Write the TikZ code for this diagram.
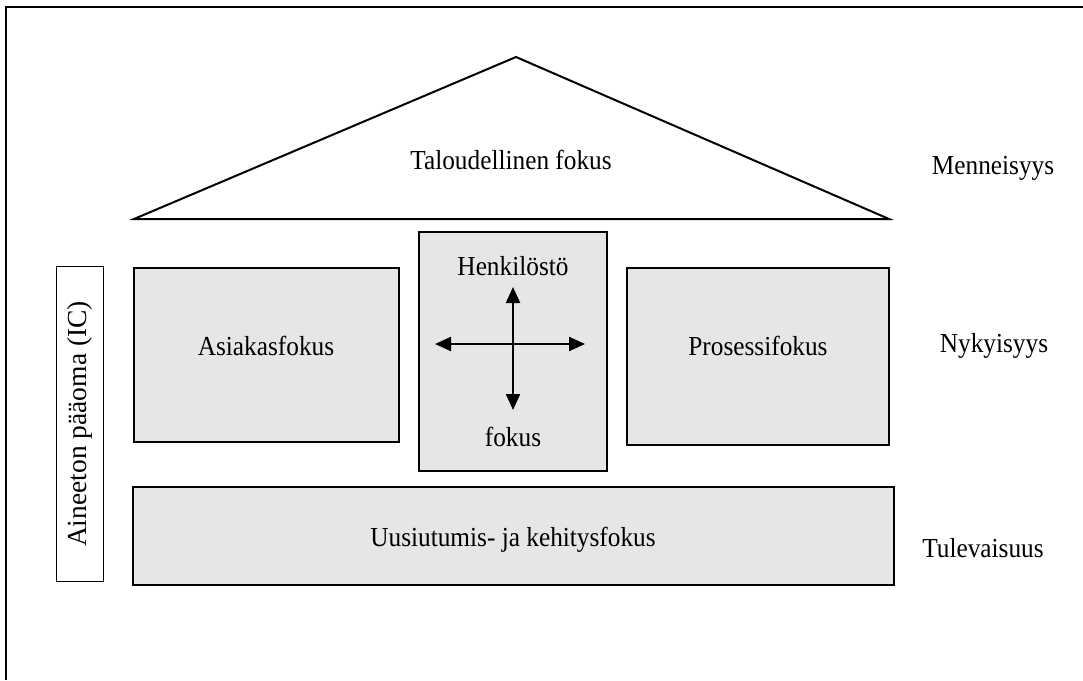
\documentclass[tikz,border=0pt]{standalone}
\usepackage{fontspec}
\setmainfont{Liberation Serif}
\newfontfamily\narrowserif[FakeStretch=0.92]{Liberation Serif}
\usetikzlibrary{arrows.meta}
\definecolor{boxgray}{HTML}{E6E6E6}
\tikzset{
  graybox/.style={draw=black, fill=boxgray, line width=2pt},
  lbl/.style={font=\narrowserif\fontsize{27.5}{32}\selectfont, inner sep=0pt},
  vlbl/.style={font=\fontsize{27.5}{32}\selectfont, inner sep=0pt, rotate=90},
  biarrow/.style={line width=2.2pt, {Triangle[length=16pt,width=14pt]}-{Triangle[length=16pt,width=14pt]}}
}
\begin{document}
\begin{tikzpicture}[x=1pt,y=-1pt]
\useasboundingbox (0,0) rectangle (1083,680);
% frame (top and left edges)
\coordinate (fbl) at (6,680);
\coordinate (ftl) at (6,7);
\coordinate (ftr) at (1083,7);
\draw[line width=2.5pt] (fbl) -- (ftl) -- (ftr);
% roof
\coordinate (apex) at (516,57);
\coordinate (bl) at (134,219);
\coordinate (br) at (889,219);
\draw[line width=2pt, line join=miter] (bl) -- (apex) -- (br) -- cycle;
\node[lbl] (talous) at (511,160) {Taloudellinen fokus};
% boxes
\draw[graybox] (134,268) rectangle (399,442);
\node[lbl] (asiakas) at (266,346) {Asiakasfokus};
\draw[graybox] (419,232) rectangle (607,471);
\node[lbl] (henk) at (513,266) {Henkilöstö};
\node[lbl] (fok) at (513,437) {fokus};
\draw[graybox] (627,268) rectangle (889,445);
\node[lbl] (prosessi) at (758,346) {Prosessifokus};
\draw[graybox] (133,487) rectangle (894,585);
\node[lbl] (uusi) at (513,540) {Uusiutumis- ja kehitysfokus};
% IC box
\draw[line width=1pt] (56,266) rectangle (103,581);
\node[vlbl] (ic) at (80,424) {Aineeton pääoma (IC)};
% arrows
\coordinate (hl) at (435,344);
\coordinate (hr) at (585,344);
\coordinate (vt) at (513,287);
\coordinate (vb) at (513,410);
\draw[biarrow] (hl) -- (hr);
\draw[biarrow] (vt) -- (vb);
% time labels
\node[lbl] (menn) at (993,168) {Menneisyys};
\node[lbl] (nyky) at (994,346) {Nykyisyys};
\node[lbl] (tule) at (983,548) {Tulevaisuus};
\end{tikzpicture}
\end{document}
